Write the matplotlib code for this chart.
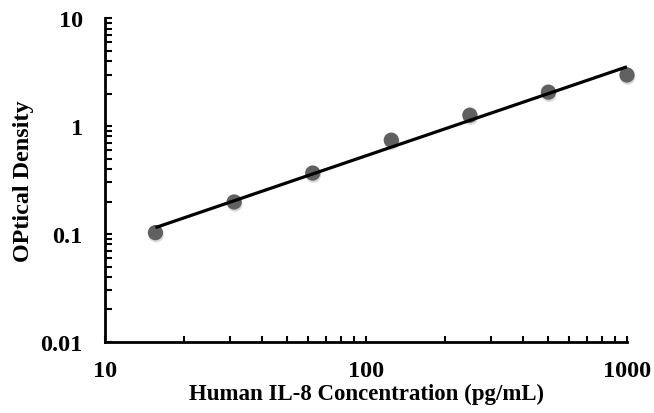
import numpy as np
import matplotlib
matplotlib.use("Agg")
import matplotlib.pyplot as plt
import matplotlib.patheffects as pe
from matplotlib.ticker import LogLocator, FixedLocator, FixedFormatter, NullFormatter

# Data
concentration = [15.6, 31.25, 62.5, 125, 250, 500, 1000]
optical_density = [0.103, 0.198, 0.367, 0.74, 1.26, 2.06, 2.97]
x_ticks = [10, 100, 1000]
x_tick_labels = ["10", "100", "1000"]
y_ticks = [0.01, 0.1, 1, 10]
y_tick_labels = ["0.01", "0.1", "1", "10"]

plt.rcParams['font.family'] = ['Liberation Serif', 'DejaVu Serif']
plt.rcParams['font.weight'] = 'bold'

fig = plt.figure(figsize=(6.54, 4.14), dpi=100)
ax = fig.add_axes([0.1606, 0.1715, 0.7981, 0.7825])

ax.set_xscale('log')
ax.set_yscale('log')
ax.set_xlim(10, 1000)
ax.set_ylim(0.01, 10)

# power trendline (fit in log-log space)
lx = np.log10(concentration)
ly = np.log10(optical_density)
slope, intercept = np.polyfit(lx, ly, 1)
xf = np.array([concentration[0], concentration[-1]])
yf = 10 ** (intercept + slope * np.log10(xf))

ax.plot(concentration, optical_density, 'o', color='#606060', markersize=11,
        markeredgewidth=0, zorder=2, clip_on=False,
        path_effects=[pe.SimplePatchShadow(offset=(0.5, -1.5), shadow_rgbFace='#909090', alpha=0.35),
                      pe.Normal()])
ax.plot(xf, yf, '-', color='black', linewidth=2.3, zorder=3, solid_capstyle='butt', clip_on=False)

for s in ['top', 'right']:
    ax.spines[s].set_visible(False)
for s in ['left', 'bottom']:
    ax.spines[s].set_linewidth(2)

ax.xaxis.set_major_locator(FixedLocator(x_ticks))
ax.xaxis.set_major_formatter(FixedFormatter(x_tick_labels))
ax.yaxis.set_major_locator(FixedLocator(y_ticks))
ax.yaxis.set_major_formatter(FixedFormatter(y_tick_labels))
ax.xaxis.set_minor_locator(LogLocator(base=10, subs=np.arange(2, 10)))
ax.yaxis.set_minor_locator(LogLocator(base=10, subs=np.arange(2, 10)))
ax.xaxis.set_minor_formatter(NullFormatter())
ax.yaxis.set_minor_formatter(NullFormatter())

ax.tick_params(axis='both', which='both', direction='in', width=1.5, colors='black')
ax.tick_params(axis='x', which='both', length=4, pad=13)
ax.tick_params(axis='y', which='both', length=5, pad=16)
ax.tick_params(axis='both', which='major', labelsize=17.5)

ax.set_xlabel("Human IL-8 Concentration (pg/mL)", fontsize=16.5, fontweight='bold', labelpad=1)
ax.set_ylabel("OPtical Density", fontsize=17.4, fontweight='bold', labelpad=5)

fig.savefig("out.png", dpi=100)
